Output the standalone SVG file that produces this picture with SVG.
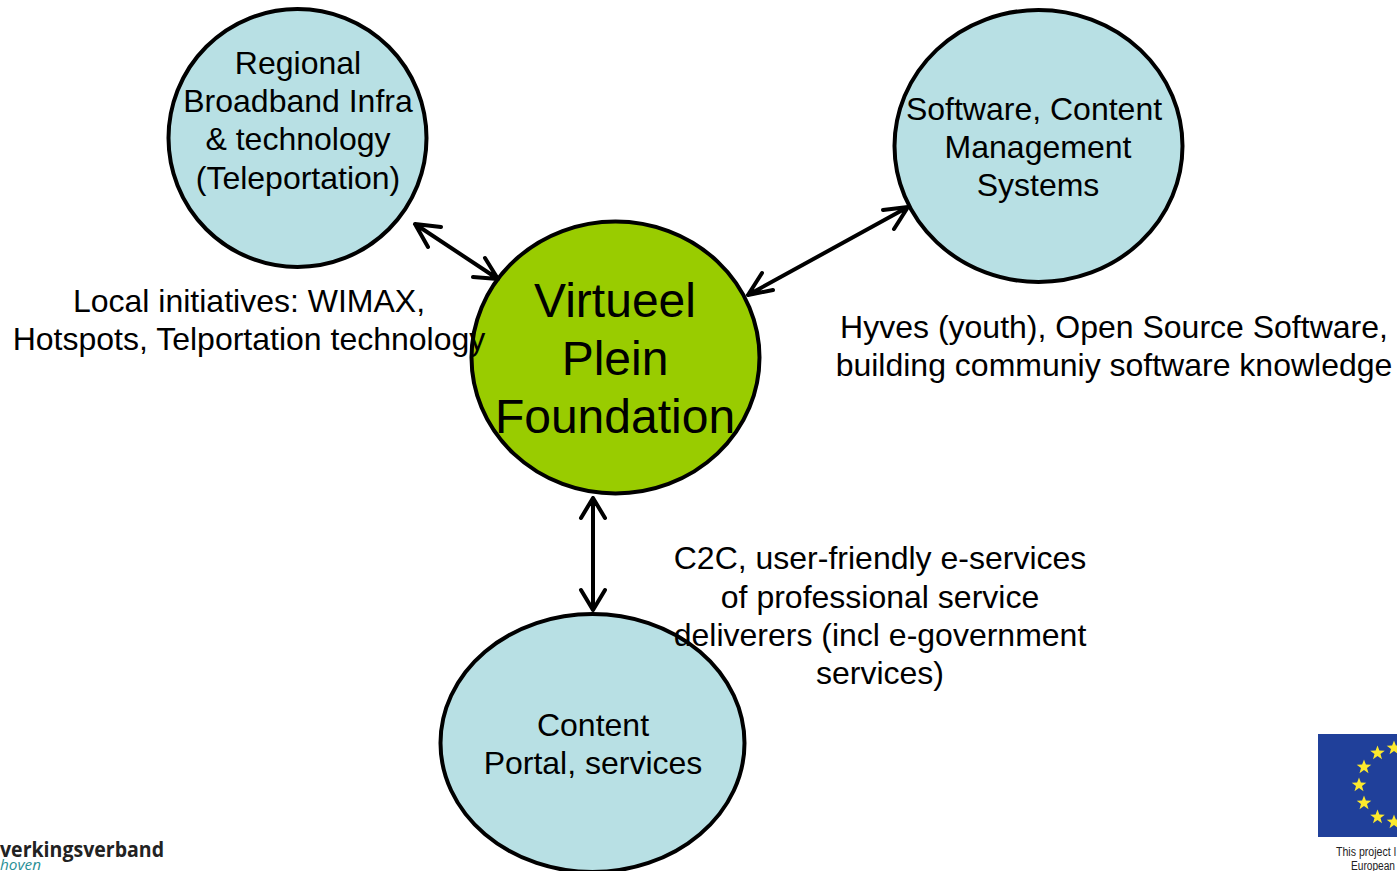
<svg xmlns="http://www.w3.org/2000/svg" width="1397" height="871" viewBox="0 0 1397 871">
<style>
text{font-family:"Liberation Sans",Arial,sans-serif;fill:#000;text-anchor:middle;font-size:32px}
.big{font-size:48px}
.n{fill:#b8e0e4;stroke:#000;stroke-width:4}
.c{stroke:#000;stroke-width:4;fill:none;stroke-linecap:round;stroke-linejoin:round}
.eu{text-anchor:start;font-size:12px;fill:#222}
</style>
<defs><polygon id="s" points="0,-7.500 1.900,-2.400 7.300,-2.300 3,1 4.500,6.200 0,3.100 -4.500,6.200 -3,1 -7.300,-2.300 -1.900,-2.400" fill="#fde92c"/></defs>
<rect width="1397" height="871" fill="#fff"/>
<g id="node-regional"><circle class="n" cx="297.500" cy="138" r="129"/>
<text x="298" y="74">Regional</text><text x="298" y="112">Broadband Infra</text><text x="298" y="150">&amp; technology</text><text x="298" y="189">(Teleportation)</text></g>
<g id="node-software"><ellipse class="n" cx="1038.500" cy="146" rx="144" ry="136"/>
<text x="1034" y="120">Software, Content</text><text x="1038" y="158">Management</text><text x="1038" y="196">Systems</text></g>
<g id="node-virtueel"><ellipse cx="615.500" cy="357.500" rx="144" ry="136" fill="#99cc00" stroke="#000" stroke-width="4"/>
<text class="big" x="615" y="317">Virtueel</text><text class="big" x="615" y="375">Plein</text><text class="big" x="615" y="433">Foundation</text></g>
<g id="node-content"><ellipse class="n" cx="592.500" cy="743" rx="152" ry="129"/>
<text x="593" y="736">Content</text><text x="593" y="774">Portal, services</text></g>
<g id="connectors">
<path class="c" d="M415 224L498 279M441 227L415 224L428 247M485 258L498 279L473 277"/>
<path class="c" d="M748 295L908 207M773 290L748 295L762 273M883 210L908 207L894 229"/>
<path class="c" d="M593 498V610M581 518L593 498L605 518M581 590L593 610L605 590"/>
</g>
<g id="labels">
<text x="249" y="312">Local initiatives: WIMAX,</text><text x="249" y="350">Hotspots, Telportation technology</text>
<text x="1114" y="338">Hyves (youth), Open Source Software,</text><text x="1114" y="376">building communiy software knowledge</text>
<text x="880" y="569">C2C, user-friendly e-services</text><text x="880" y="608">of professional service</text><text x="880" y="646">deliverers (incl e-government</text><text x="880" y="684">services)</text>
</g>
<g id="logo-left"><text x="0" y="857" textLength="164" lengthAdjust="spacingAndGlyphs" style="text-anchor:start;font-family:'Open Sans',sans-serif;font-weight:bold;font-size:22px;fill:#222">verkingsverband</text>
<text x="0" y="870" textLength="41" lengthAdjust="spacingAndGlyphs" style="text-anchor:start;font-family:'Open Sans',sans-serif;font-style:italic;font-size:14px;fill:#2a8f96">hoven</text></g>
<g id="logo-eu"><rect x="1318" y="734" width="79" height="103" fill="#20409a"/>
<use href="#s" x="1377.500" y="753"/><use href="#s" x="1394" y="748"/><use href="#s" x="1364" y="767"/><use href="#s" x="1359" y="785"/><use href="#s" x="1364" y="803"/><use href="#s" x="1377.500" y="817"/><use href="#s" x="1394" y="822"/>
<text class="eu" x="1336" y="856" textLength="60" lengthAdjust="spacingAndGlyphs">This project l</text><text class="eu" x="1351" y="870" textLength="44" lengthAdjust="spacingAndGlyphs">European</text></g>
</svg>
